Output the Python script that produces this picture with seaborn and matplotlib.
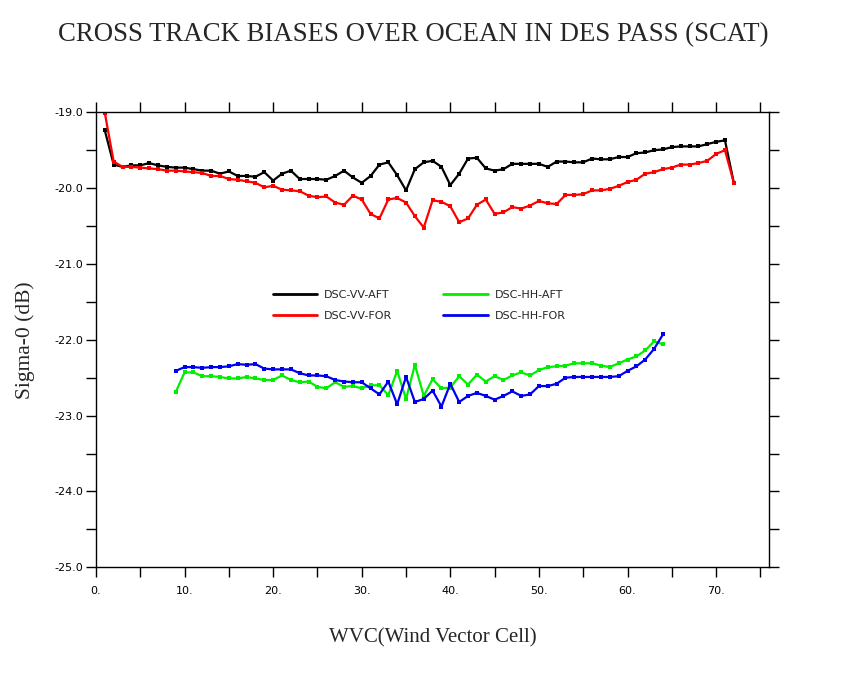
import numpy as np
import pandas as pd
import seaborn as sns
import matplotlib
matplotlib.use("Agg")
import matplotlib.pyplot as plt
from matplotlib.ticker import MultipleLocator, FuncFormatter

# wind vector cell index for each series
wvc_vv = list(range(1, 73))
wvc_hh = list(range(9, 65))

vv_aft = [-19.24, -19.69, -19.72, -19.70, -19.70, -19.67, -19.70, -19.72, -19.73, -19.73,
          -19.75, -19.77, -19.77, -19.81, -19.78, -19.84, -19.84, -19.85, -19.79, -19.90,
          -19.81, -19.77, -19.88, -19.88, -19.88, -19.89, -19.84, -19.77, -19.86, -19.93,
          -19.84, -19.69, -19.66, -19.83, -20.03, -19.75, -19.66, -19.64, -19.72, -19.96,
          -19.81, -19.61, -19.60, -19.74, -19.77, -19.75, -19.68, -19.68, -19.68, -19.68,
          -19.72, -19.65, -19.65, -19.66, -19.66, -19.61, -19.62, -19.62, -19.59, -19.59,
          -19.54, -19.53, -19.50, -19.49, -19.46, -19.45, -19.45, -19.45, -19.42, -19.39,
          -19.37, -19.93]

vv_for = [-19.01, -19.65, -19.72, -19.72, -19.73, -19.74, -19.75, -19.77, -19.77, -19.78,
          -19.79, -19.80, -19.84, -19.84, -19.88, -19.89, -19.91, -19.93, -19.99, -19.97,
          -20.02, -20.03, -20.04, -20.10, -20.12, -20.11, -20.19, -20.22, -20.10, -20.15,
          -20.34, -20.40, -20.15, -20.13, -20.19, -20.37, -20.52, -20.16, -20.18, -20.24,
          -20.45, -20.40, -20.22, -20.15, -20.34, -20.32, -20.25, -20.27, -20.23, -20.17,
          -20.20, -20.21, -20.09, -20.09, -20.08, -20.03, -20.03, -20.01, -19.97, -19.92,
          -19.89, -19.81, -19.79, -19.75, -19.73, -19.69, -19.69, -19.67, -19.64, -19.55,
          -19.50, -19.93]

hh_aft = [-22.69, -22.43, -22.43, -22.48, -22.48, -22.49, -22.51, -22.51, -22.49, -22.51,
          -22.53, -22.53, -22.47, -22.53, -22.56, -22.55, -22.62, -22.64, -22.56, -22.62,
          -22.61, -22.64, -22.60, -22.60, -22.73, -22.41, -22.78, -22.33, -22.74, -22.52,
          -22.64, -22.63, -22.48, -22.59, -22.46, -22.55, -22.48, -22.53, -22.47, -22.43,
          -22.47, -22.40, -22.36, -22.35, -22.34, -22.31, -22.31, -22.31, -22.34, -22.36,
          -22.31, -22.26, -22.22, -22.14, -22.02, -22.06]

hh_for = [-22.41, -22.36, -22.36, -22.37, -22.36, -22.36, -22.35, -22.32, -22.33, -22.32,
          -22.38, -22.39, -22.39, -22.39, -22.44, -22.47, -22.47, -22.48, -22.53, -22.55,
          -22.56, -22.56, -22.64, -22.72, -22.55, -22.85, -22.49, -22.82, -22.78, -22.67,
          -22.88, -22.58, -22.82, -22.74, -22.70, -22.74, -22.79, -22.74, -22.68, -22.74,
          -22.72, -22.61, -22.61, -22.58, -22.50, -22.49, -22.49, -22.49, -22.49, -22.49,
          -22.48, -22.41, -22.35, -22.26, -22.12, -21.93]

labels = ["DSC-VV-AFT", "DSC-VV-FOR", "DSC-HH-AFT", "DSC-HH-FOR"]
colors = ["#000000", "#ff0000", "#00ee00", "#0000ee"]

frames = []
for name, xs, ys in zip(labels, [wvc_vv, wvc_vv, wvc_hh, wvc_hh],
                        [vv_aft, vv_for, hh_aft, hh_for]):
    frames.append(pd.DataFrame({"wvc": xs, "sigma0": ys, "series": name}))
df = pd.concat(frames, ignore_index=True)

sns.set_style("ticks")
plt.rcParams["font.family"] = ["DejaVu Sans"]

fig = plt.figure(figsize=(8.5, 6.8), dpi=100)
ax = fig.add_axes([0.1129, 0.1657, 0.7921, 0.6692])

sns.lineplot(data=df, x="wvc", y="sigma0", hue="series", hue_order=labels,
             palette=dict(zip(labels, colors)), marker="s", markersize=3.2,
             markeredgewidth=0, linewidth=1.6, sort=False, ax=ax)

ax.set_xlim(0, 76)
ax.set_ylim(-25, -19)
ax.xaxis.set_major_locator(MultipleLocator(10))
ax.xaxis.set_minor_locator(MultipleLocator(5))
ax.yaxis.set_major_locator(MultipleLocator(1))
ax.yaxis.set_minor_locator(MultipleLocator(0.5))
ax.xaxis.set_major_formatter(FuncFormatter(lambda v, p: f"{int(v)}."))
ax.yaxis.set_major_formatter(FuncFormatter(lambda v, p: f"{v:.1f}"))
ax.tick_params(which="both", direction="out", length=7.5, width=1,
               top=True, right=True, labelsize=8, colors="black")
ax.tick_params(axis="x", pad=6)
ax.tick_params(axis="y", pad=1.5)
for s in ax.spines.values():
    s.set_linewidth(1.0)
    s.set_color("black")

ax.set_xlabel("WVC(Wind Vector Cell)", family="Liberation Serif", fontsize=15, labelpad=23)
ax.set_ylabel("Sigma-0 (dB)", family="Liberation Serif", fontsize=15.5, labelpad=14)
fig.suptitle("CROSS TRACK BIASES OVER OCEAN IN DES PASS (SCAT)",
             family="Liberation Serif", fontsize=19.3, x=0.486, y=0.968)

handles, _ = ax.get_legend_handles_labels()
ax.legend(handles, labels, ncol=2, frameon=False, fontsize=8,
          loc="upper left", bbox_to_anchor=(273 / 850, 1 - 290 / 680),
          bbox_transform=fig.transFigure, borderpad=0, borderaxespad=0,
          handlelength=4.0, handletextpad=0.6, columnspacing=4.6,
          labelspacing=1.0)
for h in ax.get_legend().legend_handles:
    h.set_marker("")
    h.set_linewidth(2)

fig.savefig("out.png", dpi=100)
